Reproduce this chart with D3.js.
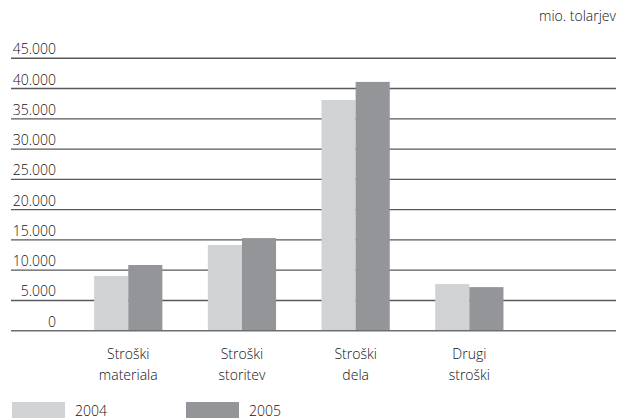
<!DOCTYPE html>
<html>
<head>
<meta charset="utf-8">
<script src="https://cdn.jsdelivr.net/npm/d3@7"></script>
<style>
  html, body { margin: 0; padding: 0; background: #fff; }
  svg { display: block; }
  text { font-family: "Open Sans", sans-serif; font-weight: 350; fill: #111; }
</style>
</head>
<body>
<script>
// ---- data ----
const categories = [["Stroški", "materiala"], ["Stroški", "storitev"], ["Stroški", "dela"], ["Drugi", "stroški"]];
const seriesNames = ["2004", "2005"];
const values2004 = [9050, 14150, 38100, 7700];
const values2005 = [10850, 15300, 41100, 7200];
const yTicks = [0, 5000, 10000, 15000, 20000, 25000, 30000, 35000, 40000, 45000];
const unitLabel = "mio. tolarjev";
const colors = ["#d1d2d4", "#939598"];

const W = 618, H = 418;
const svg = d3.select("body").append("svg").attr("width", W).attr("height", H);

const loc = d3.formatLocale({ decimal: ",", thousands: ".", grouping: [3], currency: ["", ""] });
const fmt = loc.format(",");

const y = d3.scaleLinear().domain([0, 45000]).range([330.7, 58.3]);
const x0 = d3.scaleBand().domain(d3.range(categories.length)).range([71.4, 526.2])
  .paddingInner(0.4).paddingOuter(0.2);
const x1 = d3.scaleBand().domain(seriesNames).range([0, x0.bandwidth()]);

const gridLeft = 11, gridRight = 616;

// gridlines (behind bars), except zero
svg.append("g").selectAll("line").data(yTicks.filter(d => d > 0)).join("line")
  .attr("x1", gridLeft).attr("x2", gridRight)
  .attr("y1", d => y(d)).attr("y2", d => y(d))
  .attr("stroke", "#58595b").attr("stroke-width", 1.4);

// tick labels
svg.append("g").selectAll("text").data(yTicks).join("text")
  .attr("x", 56).attr("y", d => y(d) - 4)
  .attr("text-anchor", "end").attr("font-size", 14)
  .text(d => fmt(d));

// bars
const data = categories.map((c, i) => ({ i, vals: [values2004[i], values2005[i]] }));
const groups = svg.append("g").selectAll("g").data(data).join("g")
  .attr("transform", d => `translate(${x0(d.i)},0)`);
groups.selectAll("rect").data(d => d.vals.map((v, k) => ({ v, k }))).join("rect")
  .attr("x", d => x1(seriesNames[d.k]))
  .attr("width", x1.bandwidth())
  .attr("y", d => y(d.v))
  .attr("height", d => y(0) - y(d.v))
  .attr("fill", d => colors[d.k]);

// zero line on top
svg.append("line")
  .attr("x1", gridLeft).attr("x2", gridRight)
  .attr("y1", y(0)).attr("y2", y(0))
  .attr("stroke", "#6d6e71").attr("stroke-width", 1.4);

// category labels
const cl = svg.append("g").selectAll("text").data(categories).join("text")
  .attr("text-anchor", "middle").attr("font-size", 14)
  .attr("transform", (d, i) => `translate(${x0(i) + x0.bandwidth() / 2},0)`);
cl.selectAll("tspan").data(d => d).join("tspan")
  .attr("x", 0).attr("y", (d, k) => 358.5 + k * 21.5)
  .text(d => d);

// unit label
svg.append("text").attr("x", 616).attr("y", 21).attr("text-anchor", "end")
  .attr("font-size", 14).text(unitLabel);

// legend
const legX = [12, 186];
const leg = svg.append("g").selectAll("g").data(seriesNames).join("g")
  .attr("transform", (d, i) => `translate(${legX[i]},0)`);
leg.append("rect").attr("x", 0).attr("y", 402).attr("width", 53).attr("height", 20)
  .attr("fill", (d, i) => colors[i]);
leg.append("text").attr("x", 63).attr("y", 415.5).attr("font-size", 14).text(d => d);
</script>
</body>
</html>
